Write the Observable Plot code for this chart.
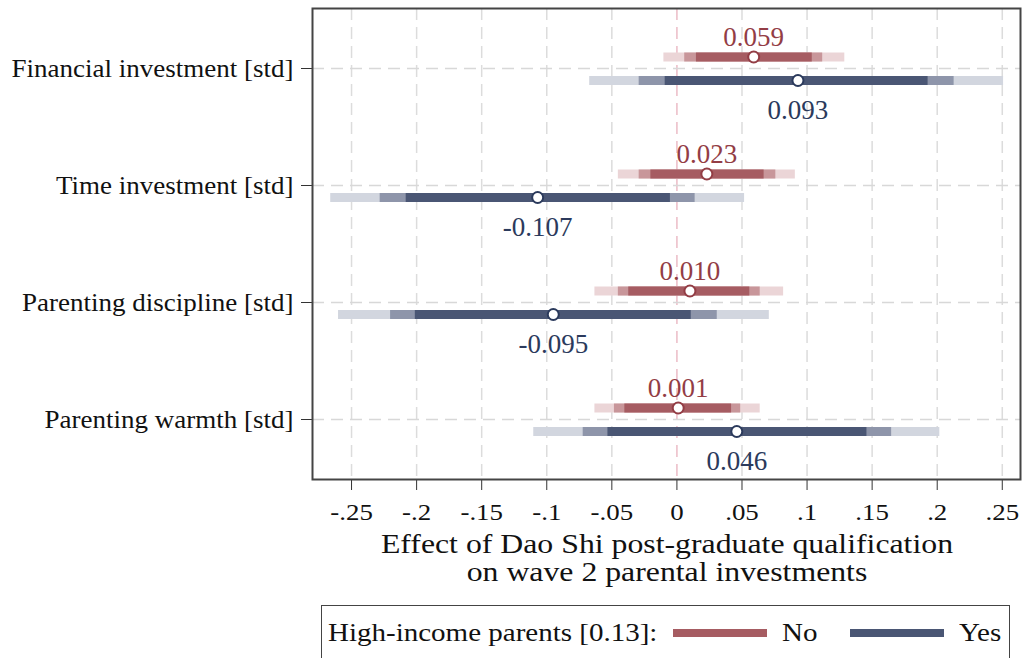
<!DOCTYPE html>
<html><head><meta charset="utf-8">
<script src="https://cdn.jsdelivr.net/npm/d3@7"></script>
<script src="https://cdn.jsdelivr.net/npm/@observablehq/plot@0.6"></script>
<style>
html,body{margin:0;padding:0;overflow:hidden;background:#fff;width:1022px;height:658px;}
#wrap{position:relative;width:1022px;height:658px;font-family:"Liberation Serif","Times New Roman",serif;color:#111;}
#chart{position:absolute;left:0;top:0;}
#xtitle{position:absolute;left:367px;width:600px;top:530px;text-align:center;font-size:28px;line-height:28px;transform:scaleX(1.135);transform-origin:300px 0;}
#legbox{position:absolute;left:321px;top:605px;width:689px;height:80px;border:1.5px solid #444;box-sizing:border-box;}
.lt{position:absolute;font-size:25px;line-height:28px;top:619px;white-space:nowrap;transform:scaleX(1.16);transform-origin:0 0;}
.sw{position:absolute;height:8px;top:629px;}
</style>
</head><body>
<div id="wrap">
  <div id="chart"></div>
  <div id="xtitle"></div>
  <div id="legbox"></div>
  <div id="legend"></div>
</div>
<script>
// ---- data ----
const rows = ["Financial investment [std]", "Time investment [std]", "Parenting discipline [std]", "Parenting warmth [std]"];

const noEst   = [0.059, 0.023, 0.010, 0.001];
const no90Lo  = [0.015, -0.020, -0.037, -0.040];
const no90Hi  = [0.104, 0.067, 0.056, 0.042];
const no95Lo  = [0.006, -0.029, -0.045, -0.048];
const no95Hi  = [0.112, 0.076, 0.064, 0.049];
const no99Lo  = [-0.010, -0.045, -0.063, -0.063];
const no99Hi  = [0.129, 0.091, 0.082, 0.064];

const yesEst  = [0.093, -0.107, -0.095, 0.046];
const yes90Lo = [-0.009, -0.208, -0.201, -0.053];
const yes90Hi = [0.193, -0.005, 0.011, 0.146];
const yes95Lo = [-0.029, -0.228, -0.220, -0.072];
const yes95Hi = [0.213, 0.014, 0.031, 0.165];
const yes99Lo = [-0.067, -0.266, -0.260, -0.110];
const yes99Hi = [0.251, 0.052, 0.071, 0.202];

const xTicks = [-0.25, -0.2, -0.15, -0.1, -0.05, 0, 0.05, 0.1, 0.15, 0.2, 0.25];
const xTitle = ["Effect of Dao Shi post-graduate qualification", "on wave 2 parental investments"];
const legendTitle = "High-income parents [0.13]:";
const seriesNames = ["No", "Yes"];

// ---- styles ----
const noCols  = {dark: "#a65c62", mid: "#c8969a", light: "#ebd5d7", text: "#933d45"};
const yesCols = {dark: "#4a5674", mid: "#8e95aa", light: "#d2d6df", text: "#2b3a5c"};

function tbl(lo, hi) { return rows.map((r, i) => ({row: r, lo: lo[i], hi: hi[i]})); }
function est(v) { return rows.map((r, i) => ({row: r, v: v[i], label: v[i].toFixed(3)})); }

function fmtTick(d) {
  if (Math.abs(d) < 1e-9) return "0";
  const s = Math.abs(d).toFixed(2).replace(/0+$/, "").replace(/^0/, "");
  return (d < 0 ? "-" : "") + s;
}

const DY_NO = -11.5, DY_YES = 12, BW = 9;
const font = '"Liberation Serif","Times New Roman",serif';

function bands(cols, lo90, hi90, lo95, hi95, lo99, hi99, dy) {
  return [
    Plot.ruleY(tbl(lo99, hi99), {y: "row", x1: "lo", x2: "hi", stroke: cols.light, strokeWidth: BW, dy}),
    Plot.ruleY(tbl(lo95, hi95), {y: "row", x1: "lo", x2: "hi", stroke: cols.mid, strokeWidth: BW, dy}),
    Plot.ruleY(tbl(lo90, hi90), {y: "row", x1: "lo", x2: "hi", stroke: cols.dark, strokeWidth: BW, dy})
  ];
}

const chart = Plot.plot({
  width: 1022,
  height: 532,
  marginLeft: 312,
  marginRight: 2,
  marginTop: 8,
  marginBottom: 53,
  style: {fontFamily: font, background: "#fff", color: "#111"},
  x: {domain: [-0.28, 0.264]},
  y: {type: "point", domain: rows, padding: 0.5},
  marks: [
    Plot.ruleX(xTicks.filter(d => d !== 0), {stroke: "#dcdcdc", strokeWidth: 1.5, strokeDasharray: "12,7"}),
    Plot.ruleX([0], {stroke: "#ebbcc6", strokeWidth: 1.5, strokeDasharray: "12,7"}),
    Plot.ruleY(rows, {stroke: "#d8d8d8", strokeWidth: 1.5, strokeDasharray: "12,7"}),
    ...bands(noCols, no90Lo, no90Hi, no95Lo, no95Hi, no99Lo, no99Hi, DY_NO),
    ...bands(yesCols, yes90Lo, yes90Hi, yes95Lo, yes95Hi, yes99Lo, yes99Hi, DY_YES),
    Plot.dot(est(noEst), {x: "v", y: "row", dy: DY_NO, r: 5.5, fill: "white", stroke: noCols.text, strokeWidth: 2}),
    Plot.dot(est(yesEst), {x: "v", y: "row", dy: DY_YES, r: 5.5, fill: "white", stroke: yesCols.text, strokeWidth: 2}),
    Plot.text(est(noEst), {x: "v", y: "row", text: "label", dy: -31, fill: noCols.text, fontSize: 27, lineAnchor: "middle", ariaLabel: "value label"}),
    Plot.text(est(yesEst), {x: "v", y: "row", text: "label", dy: 42, fill: yesCols.text, fontSize: 27, lineAnchor: "middle", ariaLabel: "value label"}),
    Plot.axisX({ticks: xTicks, tickFormat: fmtTick, tickSize: 11, tickPadding: 12, fontSize: 24, label: null, stroke: "#333", fill: "#111"}),
    Plot.axisY({tickSize: 11, tickPadding: 8, fontSize: 25, label: null, stroke: "#333", fill: "#111"}),
    Plot.frame({stroke: "#444", strokeWidth: 2})
  ]
});

document.getElementById("chart").appendChild(chart);

// widen glyphs horizontally (reference serif face is broader than Liberation Serif)
function stretch(sel, s) {
  chart.querySelectorAll(sel).forEach(t => {
    const len = t.getComputedTextLength();
    if (len > 0 && isFinite(len)) {
      t.setAttribute("textLength", (len * s).toFixed(2));
      t.setAttribute("lengthAdjust", "spacingAndGlyphs");
    }
  });
}
stretch('g[aria-label="y-axis tick label"] text', 1.08);
stretch('g[aria-label="x-axis tick label"] text', 1.12);
stretch('g[aria-label="value label"] text', 1.04);

document.getElementById("xtitle").innerHTML = xTitle.join("<br>");

const leg = document.getElementById("legend");
leg.innerHTML =
  `<div class="lt" style="left:328px">${legendTitle}</div>` +
  `<div class="sw" style="left:673px;width:94px;background:${noCols.dark}"></div>` +
  `<div class="lt" style="left:782px">${seriesNames[0]}</div>` +
  `<div class="sw" style="left:850px;width:94px;background:${yesCols.dark}"></div>` +
  `<div class="lt" style="left:959px">${seriesNames[1]}</div>`;
</script>
</body></html>
